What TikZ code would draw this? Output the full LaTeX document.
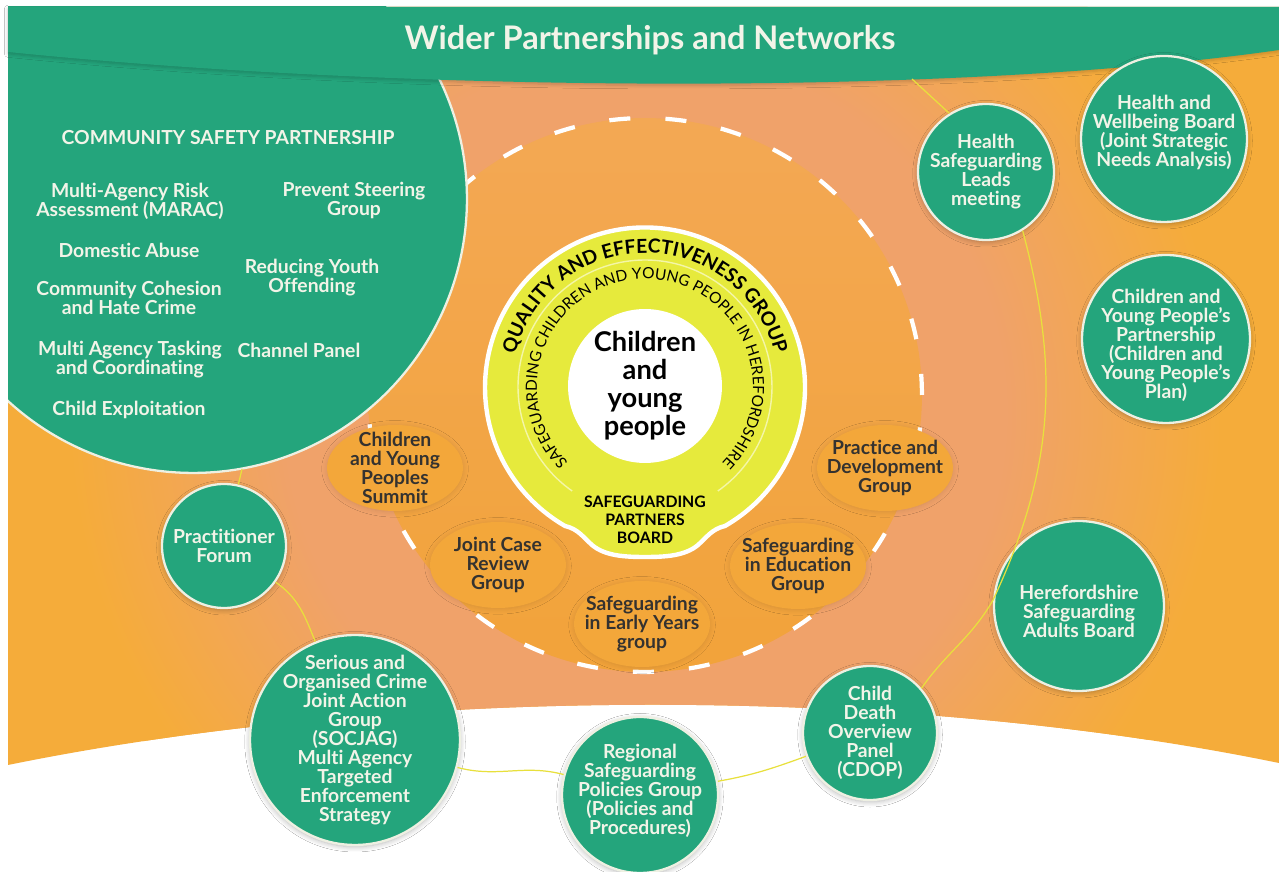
\documentclass[tikz,border=0pt]{standalone}
\usepackage{fontspec}
\setmainfont{Lato}[Ligatures=CommonOff]
\usetikzlibrary{shapes.geometric,decorations.text,shadows.blur}

\definecolor{wpgreen}{RGB}{36,165,124}
\definecolor{wporange}{RGB}{245,172,58}
\definecolor{glowsalmon}{RGB}{240,162,106}
\definecolor{cuppeach}{RGB}{243,168,84}
\definecolor{cuporange}{RGB}{242,163,58}
\definecolor{subfill}{RGB}{243,167,58}
\definecolor{qegyellow}{RGB}{230,234,60}
\definecolor{ringyellow}{RGB}{232,224,60}
\definecolor{creamline}{RGB}{238,240,226}
\definecolor{creamtext}{RGB}{242,244,232}
\definecolor{darktext}{RGB}{52,50,48}

\pgfdeclareradialshading{cypglow}{\pgfpoint{0bp}{0bp}}{color(0bp)=(glowsalmon); color(15bp)=(glowsalmon); color(24bp)=(wporange); color(50bp)=(wporange)}

\newcommand\labfont{\fontsize{11}{10.8}\selectfont\bfseries}
\newcommand\cypfont{\fontsize{15.5}{16}\selectfont\bfseries}
\newcommand\qegfont{\fontsize{11}{13}\selectfont\bfseries}
\newcommand\ringfont{\fontsize{8.8}{11}\selectfont}
\newcommand\spbfont{\fontsize{9}{10.3}\selectfont\bfseries}
\newcommand\titlefont{\fontsize{18.5}{22}\selectfont\bfseries}

\tikzset{
  partner/.style={circle, draw=creamline, line width=1.3pt, fill=wpgreen, inner sep=0pt,
    blur shadow={shadow blur steps=6, shadow xshift=0pt, shadow yshift=-1pt, shadow blur radius=3pt, shadow opacity=30}},
  ptext/.style={text=creamtext, align=center, font=\labfont},
  subgroup/.style={ellipse, fill=subfill, inner sep=0pt, minimum width=2.72cm, minimum height=1.72cm,
    blur shadow={shadow blur steps=6, shadow xshift=0pt, shadow yshift=-0.5pt, shadow blur radius=3pt, shadow opacity=12}},
  stext/.style={text=darktext, align=center, font=\labfont},
}

\begin{document}
\begin{tikzpicture}[x=0.02cm, y=0.02cm]
    \useasboundingbox (0,0) rectangle (1279,872);
    \fill[white] (0,0) rectangle (1279,872);

    % orange field, glow and the dashed cup
    \begin{scope}
        \clip (8,865) -- (1279,865) -- (1279,109) .. controls (900,187) and (400,187) .. (8,107) -- cycle;
        \fill[wporange] (0,0) rectangle (1279,872);
        \shade[shading=cypglow] (645,460) circle[radius=12cm];
        \shade[top color=cuppeach, bottom color=cuporange] (645,477) circle[radius=5.54cm];
        \draw[white, line width=2.4pt, dash pattern=on 12pt off 20pt] (645,477) circle[radius=5.54cm];
    \end{scope}

    % community safety partnership
    \begin{scope}
        \clip (8,0) rectangle (1279,865);
        \filldraw[fill=wpgreen, draw=creamline, line width=1.3pt] (193,673) circle[radius=5.48cm];
    \end{scope}

    \fill[wpgreen, blur shadow={shadow xshift=0pt, shadow yshift=-1pt, shadow opacity=20, shadow blur steps=6}]
        (8,865) -- (1279,865) -- (1279,822) .. controls (950,775) and (400,780) .. (8,820) -- cycle;
    \node[text=creamtext, font=\titlefont] (title) at (650,832) {Wider Partnerships and Networks};

    \begin{scope}[every node/.style={ptext}]
        \node (csphead) at (228,734) {COMMUNITY SAFETY PARTNERSHIP};
        \node (marac) at (130,671) {Multi-Agency Risk\\Assessment (MARAC)};
        \node (prevent) at (354,672) {Prevent Steering\\Group};
        \node (domestic) at (129,622) {Domestic Abuse};
        \node (youth) at (312,594) {Reducing Youth\\Offending};
        \node (cohesion) at (129,574) {Community Cohesion\\and Hate Crime};
        \node (tasking) at (130,512) {Multi Agency Tasking\\and Coordinating};
        \node (channel) at (299,522) {Channel Panel};
        \node (exploit) at (129,462) {Child Exploitation};
    \end{scope}

    % wider partners
    \node[partner, minimum size=3.32cm, label={[ptext, yshift=0.14cm]center:{Health and\\Wellbeing Board\\(Joint Strategic\\Needs Analysis)}}] (hwb) at (1164,733) {};
    \node[partner, minimum size=2.72cm, label={[ptext]center:{Health\\Safeguarding\\Leads\\meeting}}] (hsl) at (986,700) {};
    \node[partner, minimum size=3.36cm, label={[ptext, yshift=-0.12cm]center:{Children and\\Young People's\\Partnership\\(Children and\\Young People's\\Plan)}}] (cypp) at (1166,533) {};
    \node[partner, minimum size=3.4cm, label={[ptext, yshift=-0.1cm]center:{Herefordshire\\Safeguarding\\Adults Board}}] (hsab) at (1079,266) {};
    \node[partner, minimum size=2.68cm, label={[ptext]center:{Child\\Death\\Overview\\Panel\\(CDOP)}}] (cdop) at (870,139) {};
    \node[partner, minimum size=3.12cm, label={[ptext, yshift=0.08cm]center:{Regional\\Safeguarding\\Policies Group\\(Policies and\\Procedures)}}] (rspg) at (640,77) {};
    \node[partner, minimum size=4.2cm, label={[ptext]center:{Serious and\\Organised Crime\\Joint Action\\Group\\(SOCJAG)\\Multi Agency\\Targeted\\Enforcement\\Strategy}}] (socjag) at (355,132) {};
    \node[partner, minimum size=2.48cm, label={[ptext]center:{Practitioner\\Forum}}] (pf) at (224,326) {};

    % sub groups
    \node[subgroup, label={[stext]center:{Children\\and Young\\Peoples\\Summit}}] (cyps) at (395,404) {};
    \node[subgroup, label={[stext]center:{Joint Case\\Review\\Group}}] (jcrg) at (498,307) {};
    \node[subgroup, label={[stext]center:{Safeguarding\\in Early Years\\group}}] (sey) at (642,248) {};
    \node[subgroup, label={[stext]center:{Safeguarding\\in Education\\Group}}] (seg) at (798,306) {};
    \node[subgroup, label={[stext]center:{Practice and\\Development\\Group}}] (pdg) at (885,404) {};

    % board
    \filldraw[fill=qegyellow, draw=white, line width=2.5pt] (725,346) arc[start angle=-60, end angle=240, radius=3.2cm]
        .. controls (578,343) and (583,335) .. (592,327) .. controls (605,316) and (625,315) .. (645,315)
        .. controls (665,315) and (685,316) .. (698,327) .. controls (707,335) and (712,343) .. cycle;
    \draw[white!55!qegyellow, line width=0.8pt] (645,485) ++(235:2.54cm) arc[start angle=235, end angle=-55, radius=2.54cm];
    \node[circle, fill=white, minimum size=3.08cm, label={[font=\cypfont, align=center]center:{Children\\and\\young\\people}}] (cyp) at (645,486) {};
    \path[decorate, decoration={text along path, text={|\qegfont|QUALITY AND EFFECTIVENESS GROUP}, text align=center}]
        (645,485) ++(166:2.68cm) arc[start angle=166, end angle=14, radius=2.68cm];
    \path[decorate, decoration={text along path, text={|\ringfont|SAFEGUARDING CHILDREN AND YOUNG PEOPLE IN HEREFORDSHIRE}, text align=center}]
        (645,485) ++(229:2.16cm) arc[start angle=229, end angle=-49, radius=2.16cm];
    \node[font=\spbfont, align=center] (spb) at (645,352) {SAFEGUARDING\\PARTNERS\\BOARD};

    \coordinate (bannerfoot) at (912,793);
    \coordinate (cspfoot) at (242,403);
    \begin{scope}[every edge/.style={draw=ringyellow, line width=0.7pt}]
        \path (bannerfoot) edge (hsl.122);
        \path (hsl.302) edge [out=-75,in=65] (hsab.176);
        \path (hsab.176) edge [out=-120,in=55] (cdop.41);
        \path (cdop) edge [out=200,in=10] (rspg);
        \path (rspg) edge [out=165,in=-15] (socjag);
        \path (socjag) edge [out=112,in=-35] (pf);
        \path (cspfoot) edge (pf);
    \end{scope}

\end{tikzpicture}
\end{document}
